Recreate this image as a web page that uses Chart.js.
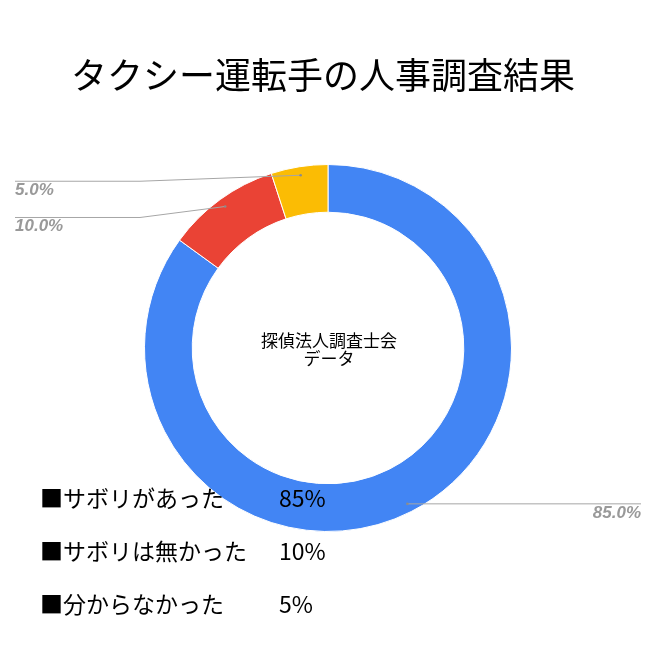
<!DOCTYPE html>
<html><head><meta charset="utf-8">
<script src="https://cdn.jsdelivr.net/npm/chart.js@4"></script>
<style>
html,body{margin:0;padding:0;background:#fff;}
#wrap{position:relative;width:660px;height:660px;}
canvas{position:absolute;left:0;top:0;}
.t{position:absolute;font-family:"Noto Sans CJK JP",sans-serif;color:#000;white-space:nowrap;}
</style></head>
<body>
<div id="wrap"><canvas id="c" width="660" height="660"></canvas></div>
<script>
const title = "タクシー運転手の人事調査結果";
const categories = ["サボリがあった", "サボリは無かった", "分からなかった"];
const values = [85, 10, 5];
const sliceLabels = ["85.0%", "10.0%", "5.0%"];
const legendPercents = ["85%", "10%", "5%"];
const centerLines = ["探偵法人調査士会", "データ"];
const colors = ["#4285F4", "#EA4335", "#FBBC04"];

// label placement (leader line end points / text side)
const labelLayout = [
  {elbowX: null, endX: 641, side: "right"},
  {elbowX: 140, endX: 15, side: "left", dy: 11},
  {elbowX: 140, endX: 15, side: "left", dy: 6}
];

const wrap = document.getElementById('wrap');
function addText(txt, x, y, size, anchor) {
  const d = document.createElement('div');
  d.className = 't';
  d.textContent = txt;
  d.style.fontSize = size + 'px';
  d.style.lineHeight = size + 'px';
  d.style.left = x + 'px';
  d.style.top = (y - size / 2) + 'px';
  if (anchor === 'center') d.style.transform = 'translateX(-50%)';
  wrap.appendChild(d);
}

const overlay = {
  id: 'overlay',
  afterDraw(chart) {
    const ctx = chart.ctx;
    const meta = chart.getDatasetMeta(0);
    ctx.save();
    // center text
    const a0 = meta.data[0];
    ctx.fillStyle = '#000';
    ctx.font = '17px "Noto Sans CJK JP", sans-serif';
    ctx.textAlign = 'center';
    ctx.textBaseline = 'middle';
    centerLines.forEach((l, i) => ctx.fillText(l, a0.x + 1, a0.y - 7 + i * 18));
    // slice labels
    meta.data.forEach((arc, i) => {
      const mid = (arc.startAngle + arc.endAngle) / 2;
      const r = arc.innerRadius + (arc.outerRadius - arc.innerRadius) * 0.82;
      const px = arc.x + Math.cos(mid) * r;
      const py = arc.y + Math.sin(mid) * r;
      const L = labelLayout[i];
      ctx.strokeStyle = '#a6a6a6';
      ctx.lineWidth = 1;
      ctx.beginPath();
      ctx.moveTo(px, py);
      let ly = py;
      if (L.elbowX !== null) { ly = py + L.dy; ctx.lineTo(L.elbowX, ly); }
      ctx.lineTo(L.endX, ly);
      ctx.stroke();
      ctx.fillStyle = '#8c8c8c';
      ctx.beginPath(); ctx.arc(px, py, 1.3, 0, Math.PI * 2); ctx.fill();
      ctx.fillStyle = '#999999';
      ctx.font = 'italic bold 17px "Liberation Sans", Arial, sans-serif';
      ctx.textBaseline = 'alphabetic';
      ctx.textAlign = L.side === 'right' ? 'right' : 'left';
      ctx.fillText(sliceLabels[i], L.endX, ly + 14);
    });
    ctx.restore();
  }
};

new Chart(document.getElementById('c'), {
  type: 'doughnut',
  data: {
    labels: categories,
    datasets: [{
      data: values,
      backgroundColor: colors,
      borderColor: '#ffffff',
      borderWidth: 1,
      hoverOffset: 0
    }]
  },
  options: {
    responsive: false,
    animation: false,
    cutout: '74%',
    layout: {padding: {left: 144, right: 148, top: 164, bottom: 128}},
    plugins: {legend: {display: false}, title: {display: false}, tooltip: {enabled: false}}
  },
  plugins: [overlay]
});

addText(title, 323, 73, 36, 'center');
const rowY = [497, 550, 603];
categories.forEach((c, i) => {
  addText("■" + c, 40, rowY[i], 23);
  addText(legendPercents[i], 279, rowY[i], 23);
});
</script>
</body></html>
